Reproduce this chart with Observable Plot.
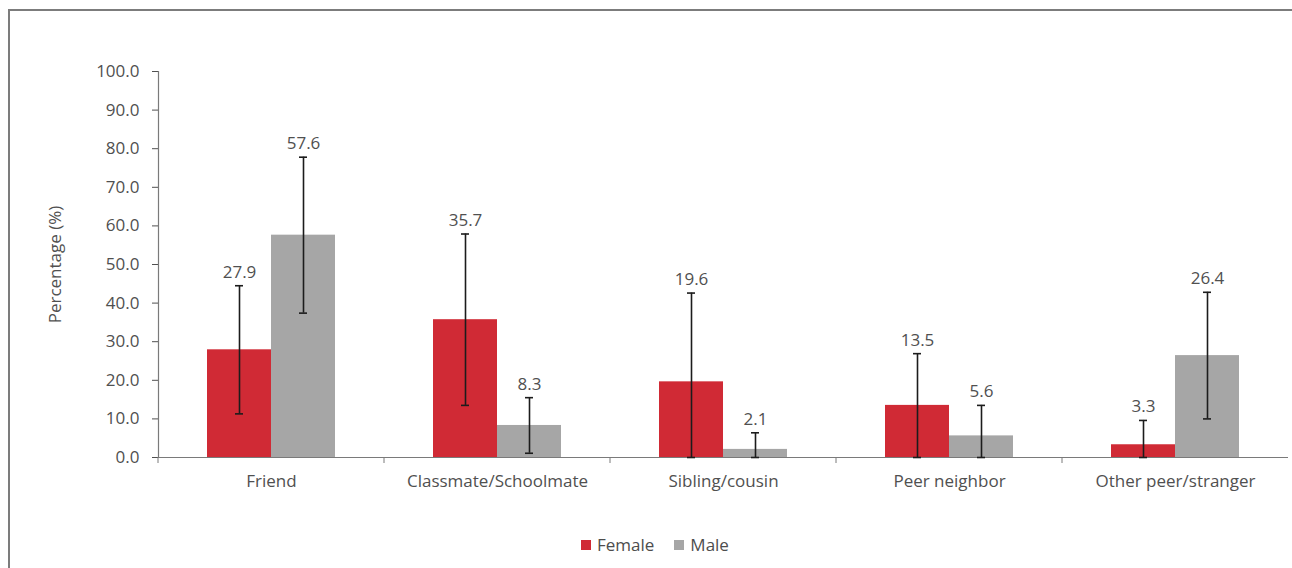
<!DOCTYPE html>
<html>
<head>
<meta charset="utf-8">
<script src="https://cdn.jsdelivr.net/npm/d3@7"></script>
<script src="https://cdn.jsdelivr.net/npm/@observablehq/plot@0.6"></script>
<style>
  html, body { margin: 0; padding: 0; background: #fff; overflow: hidden; }
  body { width: 1292px; height: 568px; position: relative; font-family: "Open Sans", sans-serif; }
  #frame { position: absolute; left: 8px; top: 9px; width: 1400px; height: 700px; border: 2px solid #7c7c7c; box-sizing: border-box; }
  #chart { position: absolute; left: 0; top: 0; }
  #legend { position: absolute; left: 581px; top: 533px; display: flex; align-items: center; font-size: 17px; color: #4d4d4d; }
  #legend .sw { width: 10px; height: 10px; margin-right: 6px; }
  #legend .item { display: flex; align-items: center; margin-right: 20px; }
</style>
</head>
<body>
<div id="frame"></div>
<div id="chart"></div>
<div id="legend"></div>
<script>
// Relationship categories along the x axis
const categories = ["Friend", "Classmate/Schoolmate", "Sibling/cousin", "Peer neighbor", "Other peer/stranger"];
const groups = ["Female", "Male"];
const groupColors = ["#d02a35", "#a6a6a6"];

// Percentages by group
const female = [27.9, 35.7, 19.6, 13.5, 3.3];
const male = [57.6, 8.3, 2.1, 5.6, 26.4];

// Confidence interval bounds (lower bounds truncated at zero)
const femaleLow = [11.3, 13.5, 0, 0, 0];
const femaleHigh = [44.5, 57.9, 42.6, 26.9, 9.6];
const maleLow = [37.4, 1.1, 0, 0, 10.0];
const maleHigh = [77.8, 15.5, 6.4, 13.5, 42.8];

// Y axis ticks
const yTicks = [0, 10, 20, 30, 40, 50, 60, 70, 80, 90, 100];

const rows = categories.flatMap((c, i) => [
  {category: c, sex: "Female", value: female[i], low: femaleLow[i], high: femaleHigh[i]},
  {category: c, sex: "Male", value: male[i], low: maleLow[i], high: maleHigh[i]}
]);

const axisColor = "#7a7a7a";
const textColor = "#505050";
const errColor = "#1c1c1c";

// Short tick marks below the baseline at the left edge of each category band
const bandTicks = (index, scales, values, dim) => {
  const g = d3.create("svg:g");
  const y0 = scales.y ? scales.y(0) : dim.height - dim.marginBottom;
  g.append("line")
    .attr("x1", dim.marginLeft).attr("x2", dim.marginLeft)
    .attr("y1", y0).attr("y2", y0 + 6)
    .attr("stroke", axisColor);
  return g.node();
};

const chart = Plot.plot({
  width: 1292,
  height: 500,
  marginLeft: 156,
  marginRight: 3,
  marginTop: 71,
  marginBottom: 43,
  style: {fontFamily: "'Open Sans', sans-serif", fontSize: "17px", color: textColor, background: "transparent"},
  fx: {domain: categories, padding: 0, label: null, axis: "bottom", tickSize: 0, tickPadding: 17},
  x: {domain: groups, paddingInner: 0, paddingOuter: 0.756, axis: null},
  y: {
    domain: [0, 100],
    ticks: yTicks,
    tickFormat: d => d.toFixed(1),
    tickSize: 6,
    tickPadding: 13,
    label: "Percentage (%)",
    labelAnchor: "center",
    labelArrow: "none",
    labelOffset: 110
  },
  color: {domain: groups, range: groupColors},
  marks: [
    Plot.barY(rows, {fx: "category", x: "sex", y: "value", fill: "sex"}),
    Plot.ruleY([0], {stroke: axisColor, strokeWidth: 1.2}),
    Plot.frame({anchor: "left", facetAnchor: "left", stroke: axisColor, strokeWidth: 1.2}),
    bandTicks,
    Plot.ruleX(rows, {fx: "category", x: "sex", y1: "low", y2: "high", stroke: errColor, strokeWidth: 1.6}),
    Plot.tickY(rows, {fx: "category", x: "sex", y: "high", stroke: errColor, strokeWidth: 1.6, insetLeft: 28, insetRight: 28}),
    Plot.tickY(rows, {fx: "category", x: "sex", y: "low", stroke: errColor, strokeWidth: 1.6, insetLeft: 28, insetRight: 28}),
    Plot.text(rows, {
      fx: "category", x: "sex", y: "high",
      text: d => d.value.toFixed(1),
      dy: -8, lineAnchor: "bottom",
      fill: textColor, fontSize: 17
    })
  ]
});
document.getElementById("chart").appendChild(chart);

// Legend below the chart
const legend = d3.select("#legend");
groups.forEach((g, i) => {
  const item = legend.append("div").attr("class", "item");
  item.append("div").attr("class", "sw").style("background", groupColors[i]);
  item.append("span").text(g);
});
</script>
</body>
</html>
